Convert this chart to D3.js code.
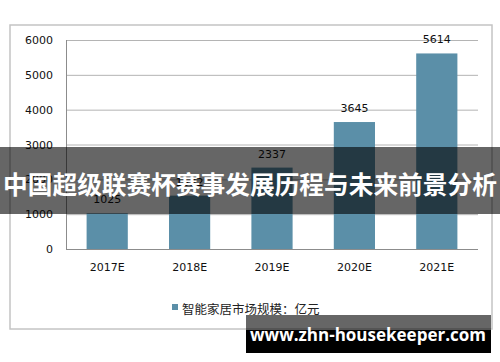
<!DOCTYPE html>
<html>
<head>
<meta charset="utf-8">
<script type="text/javascript" src="https://d3js.org/d3.v7.min.js"></script>
<style>
  body { margin: 0; background: #fff; }
  svg { display: block; }
</style>
</head>
<body>
<svg width="500" height="362"></svg>

<script type="text/javascript">
        // data
        var years = ["2017E", "2018E", "2019E", "2020E", "2021E"];
        var marketSize = [1025, 1532, 2337, 3645, 5614];
        var yTicks = [0, 1000, 2000, 3000, 4000, 5000, 6000];
        var seriesName = "智能家居市场规模：亿元";
        var bannerTitle = "中国超级联赛杯赛事发展历程与未来前景分析";
        var siteUrl = "www.zhn-housekeeper.com";

        var svg = d3.select("svg");
        var barColor = "#5b8fa8";

        // outer chart frame
        svg.append("rect")
            .attr("x", 10).attr("y", 25)
            .attr("width", 482).attr("height", 304)
            .attr("fill", "#fff")
            .attr("stroke", "#c4c4c4")
            .attr("stroke-width", 1.5);

        var x = d3.scaleBand()
            .domain(years)
            .range([66, 478])
            .paddingInner(0.5)
            .paddingOuter(0.25);

        var y = d3.scaleLinear()
            .domain([0, 6000])
            .range([249, 40]);

        // gridlines
        svg.selectAll("line.grid")
                .data(yTicks.filter(function (t) { return t > 0; }))
            .enter()
                .append("line")
                .attr("class", "grid")
                .attr("x1", 66).attr("x2", 478)
                .attr("y1", function (t) { return y(t) + 0.5; })
                .attr("y2", function (t) { return y(t) + 0.5; })
                .style("stroke", "#b4b4b4");

        // y axis labels
        var yAxis = d3.axisLeft(y).tickValues(yTicks).tickFormat(d3.format("d"))
            .tickSize(0).tickPadding(13);
        var gy = svg.append("g").attr("transform", "translate(66,0)").call(yAxis);
        gy.select(".domain").remove();
        gy.selectAll("text")
            .style("font-family", "DejaVu Sans, sans-serif")
            .style("font-size", "11px")
            .style("fill", "#111");

        // left border + baseline
        svg.append("line")
            .attr("x1", 66.5).attr("x2", 66.5)
            .attr("y1", 40).attr("y2", 249)
            .style("stroke", "#8c8c8c");
        svg.append("line")
            .attr("x1", 66).attr("x2", 478)
            .attr("y1", 249.5).attr("y2", 249.5)
            .style("stroke", "#8c8c8c");

        // bars
        svg.selectAll("rect.bar")
                .data(marketSize)
            .enter()
                .append("rect")
                .attr("class", "bar")
                .attr("x", function (d, i) { return x(years[i]); })
                .attr("width", x.bandwidth())
                .attr("y", function (d) { return y(d); })
                .attr("height", function (d) { return y(0) - y(d); })
                .style("fill", barColor);

        // value labels
        svg.selectAll("text.val")
                .data(marketSize)
            .enter()
                .append("text")
                .attr("class", "val")
                .attr("x", function (d, i) { return x(years[i]) + x.bandwidth() / 2; })
                .attr("y", function (d) { return y(d) - 10; })
                .attr("text-anchor", "middle")
                .style("font-family", "DejaVu Sans, sans-serif")
                .style("font-size", "11px")
                .style("fill", "#111")
                .text(function (d) { return d; });

        // x axis labels
        var xAxis = d3.axisBottom(x).tickSize(0).tickPadding(14);
        var gx = svg.append("g").attr("transform", "translate(0,249)").call(xAxis);
        gx.select(".domain").remove();
        gx.selectAll("text")
            .style("font-family", "DejaVu Sans, sans-serif")
            .style("font-size", "11px")
            .style("fill", "#111");

        // legend
        svg.append("rect")
            .attr("x", 172).attr("y", 304)
            .attr("width", 6).attr("height", 6)
            .style("fill", barColor);
        svg.append("text")
            .attr("x", 182).attr("y", 313.5)
            .style("font-family", "Noto Sans CJK SC, sans-serif")
            .style("font-size", "12.5px")
            .style("fill", "#222")
            .text(seriesName);

        // dark title banner over the chart
        svg.append("rect")
            .attr("x", 0).attr("y", 147)
            .attr("width", 500).attr("height", 67)
            .style("fill", "rgba(0,0,0,0.6)");
        svg.append("text")
            .attr("x", 250).attr("y", 183)
            .attr("text-anchor", "middle")
            .attr("dominant-baseline", "central")
            .style("font-family", "Noto Sans CJK SC, sans-serif")
            .style("font-weight", "bold")
            .style("font-size", "24.7px")
            .style("fill", "#fff")
            .text(bannerTitle);

        // site watermark bottom right
        svg.append("rect")
            .attr("x", 246).attr("y", 315)
            .attr("width", 245).attr("height", 15)
            .style("fill", "rgba(0,0,0,0.6)");
        svg.append("rect")
            .attr("x", 246).attr("y", 330)
            .attr("width", 245).attr("height", 23)
            .style("fill", "#000");
        svg.append("text")
            .attr("x", 368).attr("y", 341)
            .attr("text-anchor", "middle")
            .style("font-family", "Open Sans, sans-serif")
            .style("font-weight", "bold")
            .style("font-size", "17px")
            .style("fill", "#fff")
            .text(siteUrl);
</script>
</body>
</html>
